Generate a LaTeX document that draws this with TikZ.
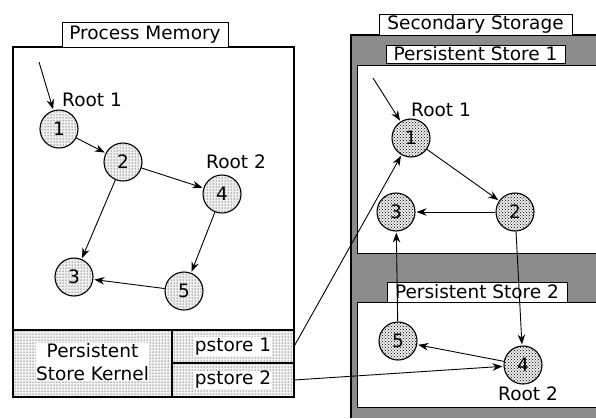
\documentclass[tikz,border=0pt]{standalone}
\usepackage{fontspec}
\setmainfont{DejaVu Sans}
\usetikzlibrary{patterns,arrows.meta}
\begin{document}
\begin{tikzpicture}[x=1pt,y=-1pt,
  txt/.style={font=\fontsize{18.5}{23}\selectfont},
  tab/.style={draw, fill=white, line width=1pt, inner sep=0pt, txt},
  objL/.style={circle, draw, line width=1.1pt, minimum width=37pt, minimum height=38pt, inner sep=0pt, txt,
    preaction={fill=gray!12}, pattern=dots},
  objR/.style={circle, draw, line width=1.1pt, minimum width=37pt, minimum height=38pt, inner sep=0pt, txt,
    preaction={fill=gray!15}, pattern=crosshatch dots},
  cell/.style={fill=white, inner sep=0.5pt, txt, align=center},
  ptr/.style={-{Stealth[length=10pt,width=7.5pt]}, line width=0.9pt, shorten >=1pt},
  frame/.style={line width=1.5pt}]
\useasboundingbox (0,0) rectangle (596,418);

% ---------- Process Memory ----------
\draw[frame] (13,47) rectangle (294,397);
\node[tab, minimum width=166pt, minimum height=25pt] (pm) at (145,34.5) {Process Memory};
\path[preaction={fill=gray!10}, pattern=dots] (13,330) rectangle (294,397);
\draw[frame] (13,330) rectangle (294,397);
\draw[frame] (172,330) -- (172,397);
\draw[frame] (172,363) -- (294,363);
\node[cell] (kern) at (92.5,362) {Persistent\\Store Kernel};
\node[cell] (ps1) at (233,346.5) {pstore 1};
\node[cell] (ps2) at (233,380) {pstore 2};

\node[objL] (L1) at (59,129) {1};
\node[objL] (L2) at (123,162) {2};
\node[objL] (L4) at (222,194) {4};
\node[objL] (L3) at (74,277) {3};
\node[objL] (L5) at (184,291) {5};
\node[txt] (lr1) at (92,100) {Root 1};
\node[txt] (lr2) at (236,162) {Root 2};
\coordinate (Lin) at (39,62);

% ---------- Secondary Storage ----------
\fill[black!45] (351,35) rectangle (596,418);
\draw[frame] (596,35) -- (351,35) -- (351,418);
\fill[white] (357,65) rectangle (596,253);
\draw[line width=1pt] (596,65) -- (357,65) -- (357,253) -- (596,253);
\fill[white] (357,302) rectangle (596,407);
\draw[line width=1pt] (596,302) -- (357,302) -- (357,407) -- (596,407);
\node[tab, minimum width=193pt, minimum height=21pt] (ss) at (475.5,24.5) {Secondary Storage};
\node[tab, minimum width=179pt, minimum height=18pt] (st1) at (475.5,54) {Persistent Store 1};
\node[tab, minimum width=180pt, minimum height=20pt] (st2) at (477,292) {Persistent Store 2};

\node[objR] (R1) at (411,138) {1};
\node[objR] (R2) at (515,212) {2};
\node[objR] (R3) at (396,212) {3};
\node[objR] (R5) at (398,341) {5};
\node[objR] (R4) at (523,365) {4};
\node[txt] (rr1) at (441,110) {Root 1};
\node[txt] (rr2) at (528,394) {Root 2};
\coordinate (Rin) at (373,78);

% ---------- pointers ----------
\draw[ptr] (Lin) -- (L1);
\draw[ptr] (L1) -- (L2);
\draw[ptr] (L2) -- (L4);
\draw[ptr] (L2) -- (L3);
\draw[ptr] (L4) -- (L5);
\draw[ptr] (L5) -- (L3);

\draw[ptr] (Rin) -- (R1);
\draw[ptr] (R1) -- (R2);
\draw[ptr] (R2) -- (R3);
\draw[ptr] (R5) -- (R3);
\draw[ptr] (R2) -- (R4);
\draw[ptr] (R4) -- (R5);

\draw[ptr] (ps1.east -| 294,342) -- (R1);
\draw[ptr] (ps2.east -| 294,380) -- (R4);
\end{tikzpicture}
\end{document}
